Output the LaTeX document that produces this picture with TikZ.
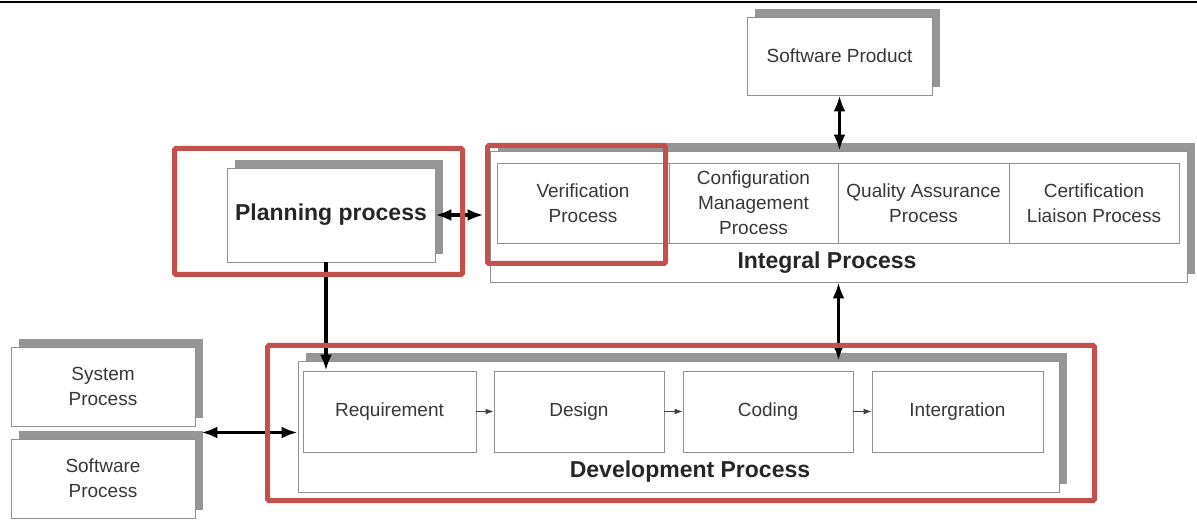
\documentclass[tikz,border=0pt]{standalone}
\usepackage{fontspec}
\setmainfont{Liberation Sans}
\usetikzlibrary{shadows,arrows.meta,calc}
\definecolor{framered}{RGB}{196,80,78}
\definecolor{shadegray}{RGB}{150,150,150}
\definecolor{edgegray}{RGB}{145,145,145}
\definecolor{txtgray}{RGB}{55,55,55}

\tikzset{
  procbox/.style={draw=edgegray, line width=0.9pt, fill=white, inner sep=0pt,
    align=center, text=txtgray, font=\fontsize{19}{25}\selectfont},
  shadowed/.style={general shadow={shadow xshift=8pt, shadow yshift=8pt, fill=shadegray}},
  title/.style={font=\bfseries\fontsize{23}{27}\selectfont, text=black!85, inner sep=0pt},
  frame/.style={draw=framered, line width=5pt, rounded corners=1.5pt},
  bighead/.tip={Latex[length=16pt,width=12pt]},
  link/.style={line width=3.2pt, bighead-bighead},
  drop/.style={line width=3.2pt, -bighead},
  flow/.style={line width=1pt, draw=black!75, -{Latex[length=8pt,width=6pt]}},
}

\begin{document}
\begin{tikzpicture}[x=1pt, y=-1pt]
\useasboundingbox (0,0) rectangle (1197,521);
\fill[white] (0,0) rectangle (1197,521);
\draw[line width=2pt] (0,2) -- (1197,2);

% product and planning
\node[procbox, shadowed, minimum width=185pt, minimum height=78pt] (prod) at (839.5,56) {Software Product};
\node[procbox, shadowed, minimum width=208pt, minimum height=94pt,
      font=\bfseries\fontsize{23}{27}\selectfont, text=black!85] (plan) at (331,215) {Planning process};

% integral process with its four sub-processes
\node[procbox, shadowed, minimum width=697pt, minimum height=131pt] (integ) at (838.5,216.5) {};
\node[procbox, minimum width=172pt, minimum height=80pt] (verif) at (583,203) {Verification\\Process};
\node[procbox, minimum width=169pt, minimum height=80pt] (config) at (753.5,203) {Configuration\\Management\\Process};
\node[procbox, minimum width=171pt, minimum height=80pt] (qa) at (923.5,203) {Quality Assurance\\Process};
\node[procbox, minimum width=170pt, minimum height=80pt] (cert) at (1094,203) {Certification\\Liaison Process};
\node[title] (integlbl) at (827,263) {Integral Process};

% development process and its stages
\node[procbox, shadowed, minimum width=761pt, minimum height=131pt] (dev) at (678.5,426.5) {};
\node[procbox, minimum width=173pt, minimum height=81pt] (req) at (389.5,411.5) {Requirement};
\node[procbox, minimum width=170pt, minimum height=81pt] (design) at (579,411.5) {Design};
\node[procbox, minimum width=170pt, minimum height=81pt] (coding) at (768,411.5) {Coding};
\node[procbox, minimum width=171pt, minimum height=81pt] (integr) at (957.5,411.5) {Intergration};
\node[title] (devlbl) at (690,472) {Development Process};

% external processes
\node[procbox, shadowed, minimum width=184pt, minimum height=79pt] (sys) at (103,386.5) {System\\Process};
\node[procbox, shadowed, minimum width=184pt, minimum height=79pt] (swp) at (103,478.5) {Software\\Process};

% connectors
\draw[link] (prod.south) -- (prod.south |- integ.north);
\draw[link, shorten >=6pt] (plan.east) -- (plan.east -| integ.west);
\coordinate (pdrop) at ([xshift=-5pt]plan.south);
\draw[drop] (pdrop) -- (pdrop |- req.north);
\draw[link] (integ.south) -- (integ.south |- dev.north);
\coordinate (ext) at ($(sys.south east)!0.5!(swp.north east)+(6pt,0pt)$);
\draw[link] (ext) -- (ext -| dev.west);
\draw[flow] (req) -- (design);
\draw[flow] (design) -- (coding);
\draw[flow] (coding) -- (integr);

% highlight frames
\draw[frame] (174.5,148.5) rectangle (462.5,274.5);
\draw[frame] (487.5,145.5) rectangle (665.5,263.5);
\draw[frame] (267.5,345.5) rectangle (1094.5,500.5);
\end{tikzpicture}
\end{document}
